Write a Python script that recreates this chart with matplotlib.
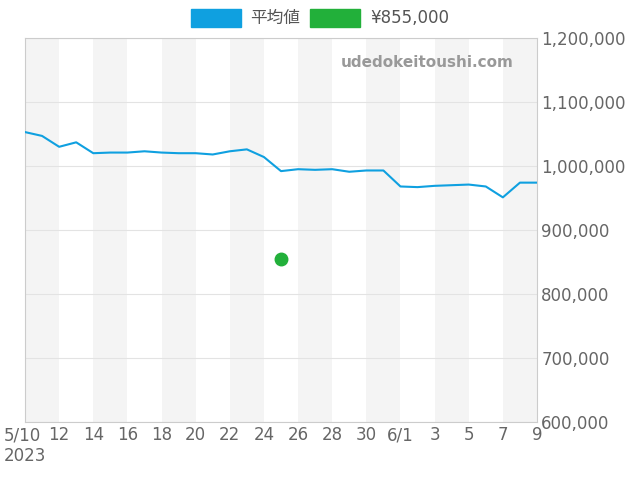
import matplotlib
matplotlib.use("Agg")
import matplotlib.pyplot as plt
import matplotlib.dates as mdates
import numpy as np
import datetime as dt

plt.rcParams['font.family'] = ['DejaVu Sans', 'Noto Sans CJK JP']

start = dt.date(2023, 5, 10)
dates = [start + dt.timedelta(days=i) for i in range(31)]
avg = [1053000, 1047000, 1030000, 1037000, 1020000, 1021000, 1021000, 1023000, 1021000, 1020000,
       1020000, 1018000, 1023000, 1026000, 1014000, 992000, 995000, 994000, 995000, 991000,
       993000, 993000, 968000, 967000, 969000, 970000, 971000, 968000, 951000, 974000, 974000]
point_date = [dt.date(2023, 5, 25)]
point_val = [855000]
tick_labels = ["5/10\n2023", "12", "14", "16", "18", "20", "22", "24", "26", "28", "30", "6/1", "3", "5", "7", "9"]

fig = plt.figure(figsize=(6.4, 4.8), dpi=100)
ax = fig.add_axes([25/640, 1-422/480, 512/640, 384/480])
x = mdates.date2num(dates)
for i in range(0, 30, 4):
    ax.axvspan(x[i], x[i+2], color='#f4f4f4', lw=0, zorder=0)
ax.plot(x, avg, color='#0fa0e0', lw=1.5, label='平均値', zorder=3)
ax.plot(mdates.date2num(point_date), point_val, 'o', color='#22b03a', ms=9, label='¥855,000', zorder=4)
ax.set_xlim(x[0], x[-1])
ax.set_ylim(600000, 1200000)
ax.set_xticks(x[::2])
ax.set_xticklabels(tick_labels)
ax.yaxis.tick_right()
ax.set_yticks(np.arange(600000, 1200001, 100000))
ax.yaxis.set_major_formatter(matplotlib.ticker.FuncFormatter(lambda v, p: f"{int(v):,}"))
ax.grid(axis='y', color='#e3e3e3', lw=0.8)
ax.tick_params(colors='#666666', labelsize=12, length=0, pad=3)
ax.get_xticklabels()[0].set_multialignment('left')
for s in ax.spines.values():
    s.set_color('#cccccc')
ax.text(0.955, 0.935, 'udedokeitoushi.com', transform=ax.transAxes, ha='right', va='center',
        color='#999999', fontsize=11, fontweight='bold')
h = [matplotlib.patches.Patch(color='#0fa0e0'), matplotlib.patches.Patch(color='#22b03a')]
fig.legend(h, ['平均値', '¥855,000'], loc='center', bbox_to_anchor=(0.5, 1-18/480), ncol=2,
           frameon=False, fontsize=12, handlelength=3, handleheight=1.3, handletextpad=0.6,
           labelcolor='#555555', columnspacing=0.6)
fig.savefig('out.png', dpi=100)
